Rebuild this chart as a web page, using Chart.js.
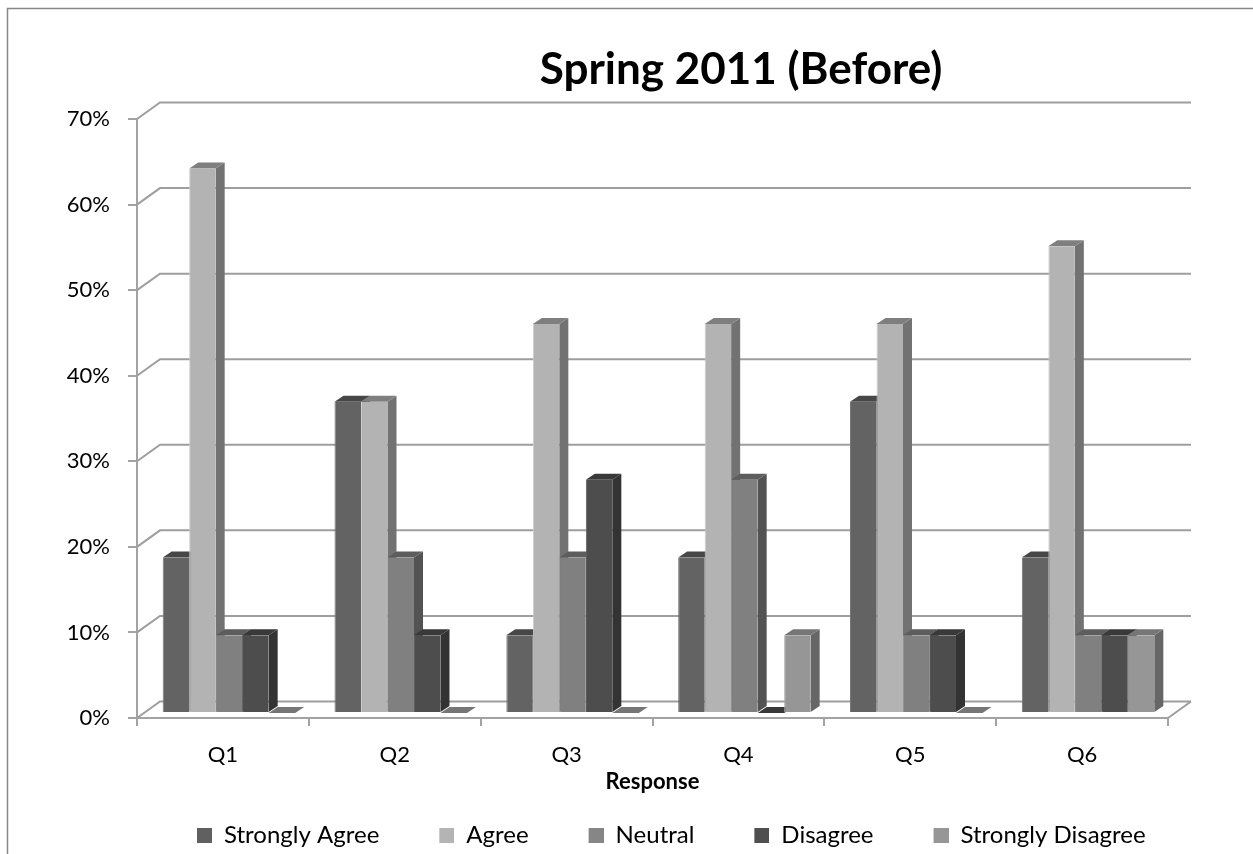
<!DOCTYPE html>
<html>
<head>
<meta charset="utf-8">
<title>Spring 2011 (Before)</title>
<script src="https://cdn.jsdelivr.net/npm/chart.js@4.4.1/dist/chart.umd.min.js"></script>
<style>
  html, body { margin: 0; padding: 0; background: #ffffff; }
  canvas { display: block; }
</style>
</head>
<body>
<canvas id="chart" width="1253" height="854"></canvas>
<script>
// ---- data ----
const categories = ['Q1', 'Q2', 'Q3', 'Q4', 'Q5', 'Q6'];
const seriesNames = ['Strongly Agree', 'Agree', 'Neutral', 'Disagree', 'Strongly Disagree'];
const stronglyAgree    = [18.18, 36.36,  9.09, 18.18, 36.36, 18.18];
const agree            = [63.64, 36.36, 45.45, 45.45, 45.45, 54.55];
const neutral          = [ 9.09, 18.18, 18.18, 27.27,  9.09,  9.09];
const disagree         = [ 9.09,  9.09, 27.27,  0.00,  9.09,  9.09];
const stronglyDisagree = [ 0.00,  0.00,  0.00,  9.09,  0.00,  9.09];
const yTickLabels = ['0%', '10%', '20%', '30%', '40%', '50%', '60%', '70%'];
const chartTitle = 'Spring 2011 (Before)';
const xAxisTitle = 'Response';

// ---- styling ----
const faceColours = [
  { front: '#636363', top: '#474747', side: '#4a4a4a', edge: '#757575' },
  { front: '#b3b3b3', top: '#7f7f7f', side: '#727272', edge: '#cdcdcd' },
  { front: '#808080', top: '#5d5d5d', side: '#535353', edge: '#949494' },
  { front: '#4d4d4d', top: '#393939', side: '#333333', edge: '#606060' },
  { front: '#969696', top: '#767676', side: '#666666', edge: '#a9a9a9' }
];
const legendColours = ['#606060', '#b4b4b4', '#868686', '#4f4f4f', '#969696'];
const WALL = { dx: 23, dy: -16.5 };   // depth of the back wall
const BAR = { dx: 9, dy: -6 };        // depth of each column
const BAR_SHIFT = { x: 6, y: -5 };    // columns stand a little behind the front edge
const GRID = '#9e9e9e';
const MARKER_LEAD = 57;               // blank space before each legend square
const MARKER = 15;

Chart.defaults.font.family = 'Lato, "Open Sans", sans-serif';
Chart.defaults.color = '#000000';

function legendMarker(colour) {
  const c = document.createElement('canvas');
  c.width = MARKER_LEAD + MARKER;
  c.height = MARKER;
  const g = c.getContext('2d');
  g.fillStyle = colour;
  g.fillRect(MARKER_LEAD, 0, MARKER, MARKER);
  return c;
}
const legendMarkers = legendColours.map(legendMarker);

const seriesValues = [stronglyAgree, agree, neutral, disagree, stronglyDisagree];
const datasets = seriesNames.map((name, i) => ({
  label: name,
  data: seriesValues[i],
  backgroundColor: faceColours[i].front,
  borderColor: faceColours[i].edge,
  borderWidth: { left: 1, right: 0, top: 0, bottom: 0 },
  borderSkipped: false,
  categoryPercentage: 0.771,
  barPercentage: 1.0,
  clip: false
}));

// Draws the frame, the title, the back wall with its gridlines, the floor,
// and the top and side faces of every column.
const depthPlugin = {
  id: 'depth3d',
  beforeDraw(chart) {
    const ctx = chart.ctx;
    ctx.save();
    ctx.strokeStyle = '#878787';
    ctx.lineWidth = 1.5;
    ctx.beginPath();
    ctx.moveTo(7.5, chart.height + 5);
    ctx.lineTo(7.5, 8.5);
    ctx.lineTo(chart.width + 5, 8.5);
    ctx.stroke();
    ctx.font = 'bold 44px Lato, "Open Sans", sans-serif';
    ctx.fillStyle = '#000000';
    ctx.textAlign = 'center';
    ctx.textBaseline = 'middle';
    ctx.fillText(chartTitle, 741, 70);
    ctx.restore();
  },
  beforeDatasetsDraw(chart) {
    const { ctx, chartArea } = chart;
    const yScale = chart.scales.y;
    ctx.save();
    ctx.strokeStyle = GRID;
    ctx.lineWidth = 2;
    yScale.ticks.forEach(t => {
      const py = yScale.getPixelForValue(t.value);
      ctx.beginPath();
      ctx.moveTo(chartArea.left, py);
      ctx.lineTo(chartArea.left + WALL.dx, py + WALL.dy);
      ctx.lineTo(chartArea.right + WALL.dx, py + WALL.dy);
      ctx.stroke();
    });
    const y0 = yScale.getPixelForValue(0);
    ctx.beginPath();
    ctx.moveTo(chartArea.right, y0);
    ctx.lineTo(chartArea.right + WALL.dx, y0 + WALL.dy);
    ctx.stroke();
    ctx.restore();

    // column tops and sides, left to right, before the fronts go on top
    ctx.save();
    ctx.translate(BAR_SHIFT.x, BAR_SHIFT.y);
    const metas = chart.getSortedVisibleDatasetMetas();
    for (let j = 0; j < categories.length; j++) {
      metas.forEach(meta => {
        const bar = meta.data[j];
        if (!bar) return;
        const p = bar.getProps(['x', 'y', 'base', 'width'], true);
        const x0 = p.x - p.width / 2, x1 = p.x + p.width / 2;
        const top = p.y, base = p.base;
        const col = faceColours[meta.index];
        ctx.fillStyle = col.side;
        ctx.beginPath();
        ctx.moveTo(x1, top);
        ctx.lineTo(x1 + BAR.dx, top + BAR.dy);
        ctx.lineTo(x1 + BAR.dx, base + BAR.dy);
        ctx.lineTo(x1, base);
        ctx.closePath();
        ctx.fill();
        ctx.fillStyle = col.top;
        ctx.beginPath();
        ctx.moveTo(x0, top);
        ctx.lineTo(x1, top);
        ctx.lineTo(x1 + BAR.dx, top + BAR.dy);
        ctx.lineTo(x0 + BAR.dx, top + BAR.dy);
        ctx.closePath();
        ctx.fill();
      });
    }
    // the translation stays in place while the column fronts are drawn
  },
  afterDatasetsDraw(chart) {
    chart.ctx.restore();
  }
};

new Chart(document.getElementById('chart'), {
  type: 'bar',
  data: { labels: categories, datasets },
  plugins: [depthPlugin],
  options: {
    responsive: false,
    animation: false,
    devicePixelRatio: 1,
    layout: { padding: { left: 40, right: 0, top: 119, bottom: 0 } },
    scales: {
      x: {
        grid: {
          offset: true,
          drawOnChartArea: false,
          drawTicks: true,
          tickLength: 8,
          color: '#a3a3a3',
          lineWidth: 2
        },
        border: { display: true, color: '#a3a3a3', width: 2 },
        ticks: { font: { size: 22 }, color: '#000000', padding: 16 },
        title: {
          display: true,
          text: xAxisTitle,
          font: { size: 22, weight: 'bold' },
          color: '#000000',
          padding: { top: 0, bottom: 25 }
        },
        afterFit(scale) { scale.height = 102; }
      },
      y: {
        min: 0,
        max: 70,
        grid: {
          drawOnChartArea: false,
          drawTicks: true,
          tickLength: 9,
          color: '#a3a3a3',
          lineWidth: 2
        },
        border: { display: true, color: '#a3a3a3', width: 2 },
        ticks: {
          stepSize: 10,
          font: { size: 22 },
          color: '#000000',
          padding: 18,
          callback: (v) => yTickLabels[Math.round(v / 10)]
        },
        afterFit(scale) { scale.width = 97; }
      },
      rightGap: {
        type: 'linear',
        position: 'right',
        display: true,
        grid: { display: false },
        border: { display: false },
        ticks: { display: false },
        afterFit(scale) { scale.width = 85; }
      }
    },
    plugins: {
      title: { display: false },
      tooltip: { enabled: false },
      legend: {
        display: true,
        position: 'bottom',
        align: 'start',
        fullSize: false,
        maxHeight: 34,
        labels: {
          font: { size: 24 },
          color: '#000000',
          padding: 3,
          usePointStyle: true,
          pointStyleWidth: MARKER_LEAD + MARKER,
          generateLabels(chart) {
            const items = Chart.defaults.plugins.legend.labels.generateLabels(chart);
            items.forEach(it => { it.pointStyle = legendMarkers[it.datasetIndex]; });
            return items;
          }
        }
      }
    }
  }
});
</script>
</body>
</html>
